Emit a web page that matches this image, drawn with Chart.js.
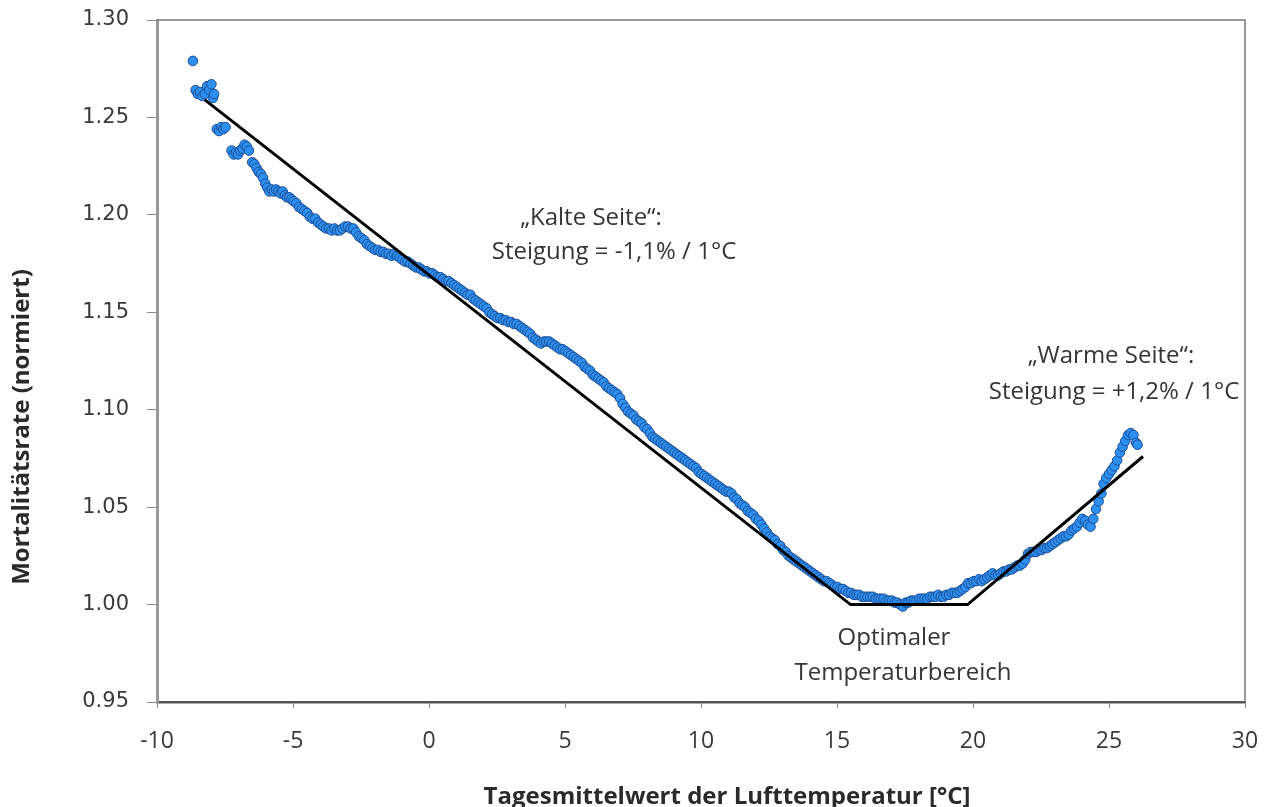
<!DOCTYPE html>
<html lang="de">
<head>
    <meta charset="UTF-8">
    <title>Mortalitätsrate vs. Lufttemperatur</title>
    <script src="https://cdn.jsdelivr.net/npm/chart.js"></script>
    <style>
        html, body { margin: 0; padding: 0; background: #fff; }
        .wrap { width: 1270px; height: 807px; }
    </style>
</head>
<body>
    <div class="wrap"><canvas id="mortChart" width="1270" height="807"></canvas></div>

    <script>
        // observed points: [temperature °C, normalized mortality]
        const observed = [
            [-8.68,1.279],
            [-8.58,1.264],[-8.50,1.262],[-8.42,1.263],[-8.33,1.261],[-8.24,1.262],[-8.16,1.266],[-8.08,1.264],[-8.00,1.267],[-7.94,1.260],[-7.90,1.262],
            [-7.80,1.244],[-7.72,1.243],[-7.64,1.245],[-7.56,1.244],[-7.48,1.245],
            [-7.26,1.233],[-7.18,1.231],[-7.10,1.232],[-7.02,1.231],[-6.94,1.233],[-6.86,1.234],[-6.78,1.236],[-6.70,1.235],[-6.62,1.233],
            [-6.50,1.227],[-6.42,1.226],[-6.34,1.224],[-6.26,1.222],[-6.18,1.221],[-6.10,1.219],[-6.02,1.216],[-5.95,1.214],[-5.87,1.212],
            [-5.78,1.213],[-5.70,1.212],[-5.62,1.213],[-5.54,1.212],[-5.46,1.211],[-5.38,1.212],[-5.30,1.210],[-5.22,1.209],[-5.14,1.209],[-5.06,1.208],[-4.98,1.207],
            [-4.88,1.206],[-4.78,1.204],[-4.68,1.203],[-4.58,1.202],[-4.48,1.201],[-4.38,1.199],[-4.28,1.198],[-4.18,1.198],[-4.08,1.196],[-3.98,1.195],
            [-3.88,1.194],[-3.78,1.193],[-3.68,1.193],[-3.58,1.192],[-3.48,1.193],[-3.38,1.192],[-3.28,1.192],[-3.18,1.193],[-3.08,1.194],[-2.98,1.194],
            [-2.88,1.193],[-2.78,1.193],[-2.68,1.191],[-2.58,1.189],[-2.48,1.188],[-2.38,1.187],[-2.28,1.185],[-2.18,1.184],[-2.08,1.183],[-1.98,1.182],
            [-1.88,1.182],[-1.78,1.181],[-1.68,1.181],[-1.58,1.180],[-1.48,1.180],[-1.38,1.179],[-1.28,1.180],[-1.18,1.179],[-1.08,1.178],[-0.98,1.177],
            [-0.88,1.176],[-0.78,1.176],[-0.68,1.175],[-0.58,1.174],[-0.48,1.173],[-0.38,1.173],[-0.28,1.172],[-0.18,1.171],[-0.08,1.171],[0.02,1.170],
            [0.12,1.170],[0.22,1.169],[0.32,1.168],[0.42,1.168],[0.52,1.167],[0.62,1.166],[0.72,1.166],[0.82,1.165],[0.92,1.164],[1.02,1.163],
            [1.12,1.162],[1.22,1.161],[1.32,1.160],[1.42,1.159],[1.52,1.159],[1.62,1.157],[1.72,1.156],[1.82,1.155],[1.92,1.154],[2.02,1.153],
            [2.12,1.152],[2.22,1.150],[2.32,1.149],[2.42,1.148],[2.52,1.147],[2.62,1.147],[2.72,1.146],[2.82,1.146],[2.92,1.145],[3.02,1.145],
            [3.12,1.144],[3.22,1.144],[3.32,1.143],[3.42,1.142],[3.52,1.141],[3.62,1.140],[3.72,1.139],[3.82,1.137],[3.92,1.136],[4.02,1.135],
            [4.12,1.134],[4.22,1.135],[4.32,1.135],[4.42,1.135],[4.52,1.134],[4.62,1.133],[4.72,1.132],[4.82,1.131],[4.92,1.131],[5.02,1.130],
            [5.12,1.129],[5.22,1.128],[5.32,1.127],[5.42,1.126],[5.52,1.125],[5.62,1.124],[5.72,1.122],[5.82,1.121],[5.92,1.120],[6.02,1.118],
            [6.12,1.117],[6.22,1.116],[6.32,1.115],[6.42,1.114],[6.52,1.112],[6.62,1.111],[6.72,1.110],[6.82,1.109],[6.92,1.108],[7.02,1.106],
            [7.12,1.103],[7.22,1.101],[7.32,1.099],[7.42,1.098],[7.52,1.097],[7.62,1.095],[7.72,1.094],[7.82,1.093],[7.92,1.091],[8.02,1.090],
            [8.12,1.088],[8.22,1.086],[8.32,1.085],[8.42,1.084],[8.52,1.083],[8.62,1.082],[8.72,1.081],[8.82,1.080],[8.92,1.079],[9.02,1.078],
            [9.12,1.077],[9.22,1.076],[9.32,1.075],[9.42,1.074],[9.52,1.073],[9.62,1.072],[9.72,1.071],[9.82,1.070],[9.92,1.068],[10.02,1.067],
            [10.12,1.066],[10.22,1.065],[10.32,1.064],[10.42,1.063],[10.52,1.062],[10.62,1.061],[10.72,1.060],[10.82,1.059],[10.92,1.058],[11.02,1.058],
            [11.12,1.057],[11.22,1.055],[11.32,1.054],[11.42,1.052],[11.52,1.051],[11.62,1.050],[11.72,1.048],[11.82,1.047],[11.92,1.046],[12.02,1.044],
            [12.12,1.043],[12.22,1.041],[12.32,1.039],[12.42,1.037],[12.52,1.035],[12.62,1.034],[12.72,1.033],[12.82,1.031],[12.92,1.030],[13.02,1.028],
            [13.12,1.027],[13.22,1.025],[13.32,1.024],[13.42,1.023],[13.52,1.022],[13.62,1.021],[13.72,1.020],[13.82,1.019],[13.92,1.018],[14.02,1.017],
            [14.12,1.016],[14.22,1.015],[14.32,1.014],[14.42,1.013],[14.52,1.012],[14.62,1.012],[14.72,1.011],[14.82,1.010],[14.92,1.009],[15.02,1.009],
            [15.12,1.008],[15.22,1.008],[15.32,1.007],[15.42,1.006],[15.52,1.006],[15.62,1.005],[15.72,1.005],[15.82,1.005],[15.92,1.004],[16.02,1.004],
            [16.12,1.004],[16.22,1.004],[16.32,1.004],[16.42,1.003],[16.52,1.003],[16.62,1.003],[16.72,1.003],[16.82,1.002],[16.92,1.002],[17.02,1.002],
            [17.12,1.001],[17.22,1.001],[17.32,1.000],[17.42,0.999],[17.52,1.001],[17.62,1.001],[17.72,1.002],[17.82,1.002],[17.92,1.002],[18.02,1.003],
            [18.12,1.003],[18.22,1.003],[18.32,1.003],[18.42,1.004],[18.52,1.004],[18.62,1.004],[18.72,1.005],[18.82,1.004],[18.92,1.004],[19.02,1.005],
            [19.12,1.005],[19.22,1.006],[19.32,1.006],[19.42,1.006],[19.52,1.007],[19.62,1.008],[19.72,1.009],[19.82,1.011],[19.92,1.011],[20.02,1.012],
            [20.12,1.012],[20.22,1.013],[20.32,1.012],[20.42,1.013],[20.52,1.014],[20.62,1.015],[20.72,1.016],[20.82,1.015],[20.92,1.015],[21.02,1.016],
            [21.12,1.017],[21.22,1.017],[21.32,1.018],[21.42,1.018],[21.52,1.019],[21.62,1.020],[21.72,1.020],[21.82,1.021],[21.92,1.023],[22.02,1.026],
            [22.12,1.027],[22.22,1.027],[22.32,1.027],[22.42,1.028],[22.52,1.028],[22.62,1.029],[22.72,1.029],[22.82,1.030],[22.92,1.031],[23.02,1.032],
            [23.12,1.033],[23.22,1.034],[23.32,1.035],[23.42,1.035],[23.52,1.036],[23.62,1.038],[23.72,1.039],[23.82,1.040],[23.92,1.042],[24.02,1.044],
            [24.12,1.043],[24.22,1.041],[24.32,1.040],[24.42,1.044],[24.52,1.049],[24.62,1.053],[24.72,1.057],[24.80,1.062],[24.90,1.065],[25.00,1.067],
            [25.10,1.069],[25.20,1.071],[25.30,1.074],[25.40,1.078],[25.50,1.081],[25.60,1.084],[25.70,1.087],[25.80,1.088],[25.90,1.087],[26.00,1.083],[26.05,1.082]
        ];

        // piecewise linear fit (kalte Seite, Optimum, warme Seite)
        const fitTemp = [-8.24, 15.5, 19.8, 26.25];
        const fitRate = [1.259, 1.000, 1.000, 1.076];

        const xRange = [-10, 30, 5];
        const yRange = [0.95, 1.30, 0.05];

        // annotation text lines: [text, centre x, centre y]
        const notes = [
            ['\u201EKalte Seite\u201C:', 591, 218],
            ['Steigung = -1,1% / 1°C', 614, 252],
            ['\u201EWarme Seite\u201C:', 1111, 356],
            ['Steigung = +1,2% / 1°C', 1114, 392],
            ['Optimaler', 894, 638],
            ['Temperaturbereich', 903, 673]
        ];
        const yTitle = 'Mortalitätsrate (normiert)';
        const xTitle = 'Tagesmittelwert der Lufttemperatur [°C]';

        const textFont = '"Open Sans", "Liberation Sans", sans-serif';

        const extras = {
            id: 'extras',
            afterDatasetsDraw(chart) {
                const ctx = chart.ctx;
                const a = chart.chartArea;
                ctx.save();
                // top and right frame
                ctx.strokeStyle = '#7a7a7a';
                ctx.lineWidth = 1.5;
                ctx.beginPath();
                ctx.moveTo(a.left, a.top);
                ctx.lineTo(a.right, a.top);
                ctx.lineTo(a.right, a.bottom);
                ctx.stroke();

                ctx.fillStyle = '#353535';
                ctx.textAlign = 'center';
                ctx.textBaseline = 'middle';
                ctx.font = '24px ' + textFont;
                notes.forEach(n => ctx.fillText(n[0], n[1], n[2]));

                ctx.fillStyle = '#2a2a2a';
                ctx.font = 'bold 24px ' + textFont;
                ctx.fillText(xTitle, 727, 797);
                ctx.translate(22, 427);
                ctx.rotate(-Math.PI / 2);
                ctx.fillText(yTitle, 0, 0);
                ctx.restore();
            }
        };

        const ctx = document.getElementById('mortChart').getContext('2d');
        new Chart(ctx, {
            type: 'scatter',
            data: {
                datasets: [
                    {
                        label: 'Fit',
                        data: fitTemp.map((t, i) => ({ x: t, y: fitRate[i] })),
                        showLine: true,
                        borderColor: '#000',
                        borderWidth: 3,
                        pointRadius: 0,
                        order: 0
                    },
                    {
                        label: 'Mortalität',
                        data: observed.map(p => ({ x: p[0], y: p[1] })),
                        backgroundColor: '#2d8ff0',
                        borderColor: '#1d4f96',
                        borderWidth: 1,
                        pointRadius: 4.8,
                        order: 1
                    }
                ]
            },
            options: {
                responsive: false,
                animation: false,
                layout: { padding: { top: 20, right: 25, left: 0, bottom: 0 } },
                plugins: { legend: { display: false }, tooltip: { enabled: false } },
                scales: {
                    x: {
                        type: 'linear',
                        min: xRange[0], max: xRange[1],
                        afterFit(s) { s.height = 105; s.paddingLeft = 0; s.paddingRight = 0; },
                        ticks: { stepSize: xRange[2], color: '#3a3a3a', padding: 20,
                                 font: { family: textFont, size: 23 } },
                        grid: { drawOnChartArea: false, drawTicks: true, tickLength: 6, color: '#8a8a8a' },
                        border: { color: '#555', width: 2.5 }
                    },
                    y: {
                        min: yRange[0], max: yRange[1],
                        afterFit(s) { s.width = 157; s.paddingTop = 0; s.paddingBottom = 0; },
                        ticks: { stepSize: yRange[2], color: '#3a3a3a', padding: 18,
                                 font: { family: '"DejaVu Sans", sans-serif', size: 21 },
                                 callback: v => v.toFixed(2) },
                        grid: { drawOnChartArea: false, drawTicks: true, tickLength: 10, color: '#8a8a8a' },
                        border: { color: '#999', width: 3 }
                    }
                }
            },
            plugins: [extras]
        });
    </script>
</body>
</html>
